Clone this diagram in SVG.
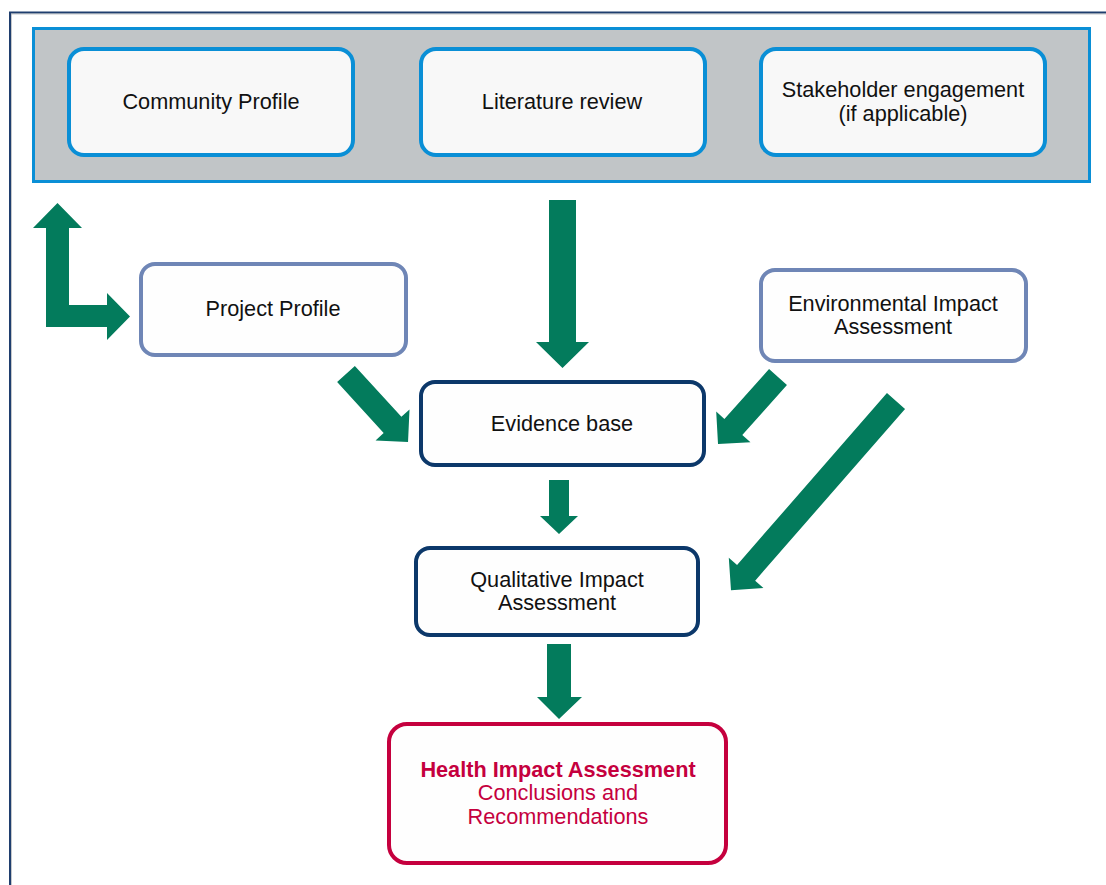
<svg xmlns="http://www.w3.org/2000/svg" width="1106" height="885" viewBox="0 0 1106 885">
<style>
  text { font-family: "Liberation Sans", Arial, sans-serif; font-size: 21.7px; fill: #111; text-anchor: middle; }
  .inner { fill: #f8f8f8; stroke: #0a8fd6; stroke-width: 4; }
  .light { fill: #fefefe; stroke: #6f86b6; stroke-width: 4; }
  .navy { fill: #fefefe; stroke: #0c386a; stroke-width: 4; }
  .hia { fill: #fefefe; stroke: #c5003e; stroke-width: 4; }
  .hiat { fill: #c5003e; }
  .arrow { fill: #037b5c; stroke: none; }
</style>
<rect x="0" y="0" width="1106" height="885" fill="#ffffff"/>
<path d="M10,885 V12.5 H1106" fill="none" stroke="#1f3e6e" stroke-width="2"/>
<path d="M11.5,885 V14 H1106" fill="none" stroke="#a0a4a8" stroke-width="1" opacity="0.6"/>

<g id="panel">
  <rect x="33.5" y="28.5" width="1056" height="153" fill="#c1c5c7" stroke="#0a8fd6" stroke-width="3"/>
</g>

<g id="community-profile">
  <rect class="inner" x="69" y="49" width="284" height="106" rx="15"/>
  <text x="211" y="109">Community Profile</text>
</g>
<g id="literature-review">
  <rect class="inner" x="421" y="49" width="284" height="106" rx="15"/>
  <text x="562" y="109">Literature review</text>
</g>
<g id="stakeholder-engagement">
  <rect class="inner" x="761" y="49" width="284" height="106" rx="15"/>
  <text x="903" y="97">Stakeholder engagement</text>
  <text x="903" y="121">(if applicable)</text>
</g>

<g id="project-profile">
  <rect class="light" x="141" y="264" width="265" height="91" rx="14"/>
  <text x="273" y="316">Project Profile</text>
</g>
<g id="environmental-impact-assessment">
  <rect class="light" x="761" y="270" width="265" height="91" rx="14"/>
  <text x="893" y="311">Environmental Impact</text>
  <text x="893" y="334">Assessment</text>
</g>
<g id="evidence-base">
  <rect class="navy" x="421" y="382" width="283" height="83" rx="14"/>
  <text x="562" y="431">Evidence base</text>
</g>
<g id="qualitative-impact-assessment">
  <rect class="navy" x="416" y="548" width="282" height="87" rx="14"/>
  <text x="557" y="587">Qualitative Impact</text>
  <text x="557" y="610">Assessment</text>
</g>
<g id="health-impact-assessment">
  <rect class="hia" x="389" y="724" width="337" height="139" rx="18"/>
  <text class="hiat" x="558" y="777" font-weight="bold">Health Impact Assessment</text>
  <text class="hiat" x="558" y="800">Conclusions and</text>
  <text class="hiat" x="558" y="824">Recommendations</text>
</g>

<g id="connectors">
  <polygon class="arrow" points="46,327 46,228 33,228 57.5,203 82,228 69,228 69,305 107,305 107,293 130,316.5 107,340 107,327"/>
  <polygon class="arrow" points="549,200 576,200 576,342 589,342 562.5,368 536,342 549,342"/>
  <polygon class="arrow" points="549,480 569,480 569,516 578,516 559,534 540,516 549,516"/>
  <polygon class="arrow" points="547,644 571,644 571,697 582,697 559,719 537,697 547,697"/>
  <path class="arrow" transform="translate(346,374) rotate(47.6)" d="M0,-12 H69 V-23 L92,0 L69,23 V12 H0 Z"/>
  <path class="arrow" transform="translate(778,377) rotate(131.8)" d="M0,-12 H67 V-23 L90,0 L67,23 V12 H0 Z"/>
  <path class="arrow" transform="translate(896,401) rotate(131.1)" d="M0,-12 H228 V-23 L251,0 L228,23 V12 H0 Z"/>
</g>
</svg>
